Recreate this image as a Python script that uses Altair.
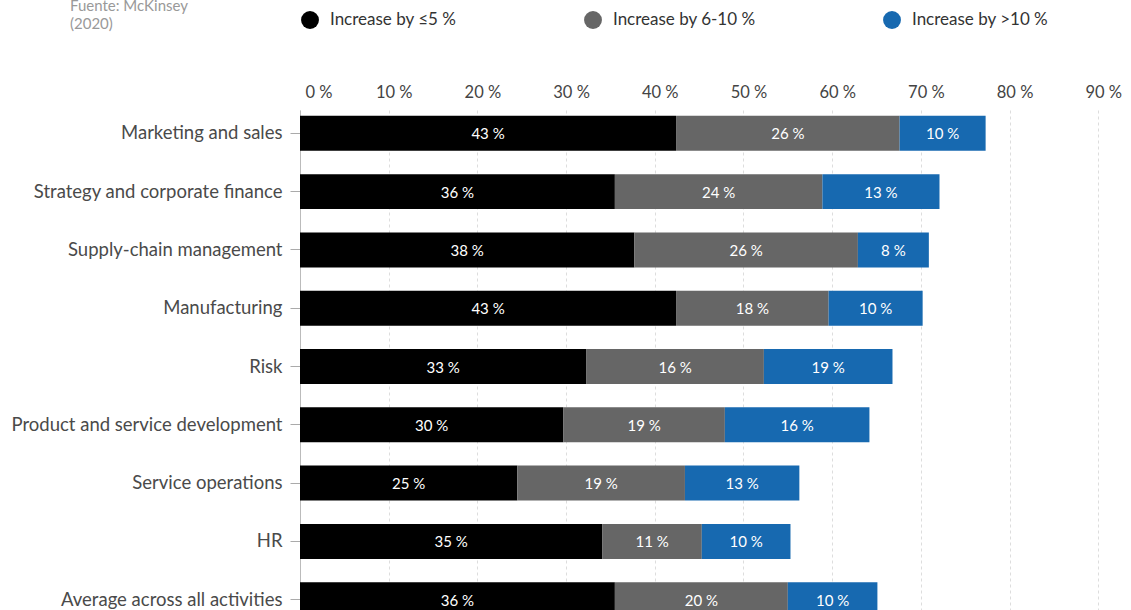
import altair as alt
import pandas as pd

categories = [
    "Marketing and sales",
    "Strategy and corporate finance",
    "Supply-chain management",
    "Manufacturing",
    "Risk",
    "Product and service development",
    "Service operations",
    "HR",
    "Average across all activities",
]
series = ["Increase by ≤5 %", "Increase by 6-10 %", "Increase by >10 %"]
colors = ["#000000", "#666666", "#1769b0"]

# drawn bar lengths (percentage points) as seen in the picture
low_vals = [42.4, 35.5, 37.7, 42.4, 32.3, 29.7, 24.5, 34.1, 35.5]
mid_vals = [25.2, 23.4, 25.2, 17.2, 20.0, 18.2, 18.9, 11.2, 19.5]
high_vals = [9.7, 13.2, 8.0, 10.6, 14.5, 16.3, 12.9, 10.0, 10.1]

# printed labels
low_labels = [43, 36, 38, 43, 33, 30, 25, 35, 36]
mid_labels = [26, 24, 26, 18, 16, 19, 19, 11, 20]
high_labels = [10, 13, 8, 10, 19, 16, 13, 10, 10]

x_ticks = [0, 10, 20, 30, 40, 50, 60, 70, 80, 90]
source_text = ["Fuente: McKinsey", "(2020)"]

rows = []
for i, cat in enumerate(categories):
    start = 0.0
    for j, (vals, labs) in enumerate(
        [(low_vals, low_labels), (mid_vals, mid_labels), (high_vals, high_labels)]
    ):
        v = vals[i]
        rows.append(
            {
                "category": cat,
                "series": series[j],
                "order": j,
                "value": v,
                "start": start,
                "end": start + v,
                "mid": start + v / 2,
                "label": f"{labs[i]} %",
            }
        )
        start += v
df = pd.DataFrame(rows)

FONT = "Lato"

y_enc = alt.Y(
    "category:N",
    sort=categories,
    title=None,
    scale=alt.Scale(paddingInner=0.4, paddingOuter=0.1, range=[0, 513]),
    axis=alt.Axis(
        labelFontSize=18.5,
        labelColor="#4a4a4a",
        labelFont=FONT,
        tickColor="#aaaaaa",
        tickSize=10,
        labelPadding=8,
        domainColor="#bbbbbb",
        labelLimit=400,
    ),
)

bars = (
    alt.Chart(df)
    .mark_bar()
    .encode(
        x=alt.X(
            "start:Q",
            title=None,
            scale=alt.Scale(domain=[0, 92], nice=False),
            axis=alt.Axis(
                orient="top",
                values=x_ticks,
                labelExpr="datum.value + ' %'",
                labelFontSize=16.5,
                labelColor="#444444",
                labelFont=FONT,
                labelPadding=10,
                labelOffset=5,
                labelFlush=True,
                ticks=False,
                domain=False,
                grid=True,
                gridColor="#dddddd",
                gridDash=[3, 3],
            ),
        ),
        x2="end:Q",
        y=y_enc,
        color=alt.Color(
            "series:N",
            scale=alt.Scale(domain=series, range=colors),
            legend=alt.Legend(
                title=None,
                orient="none",
                legendX=1,
                legendY=-99,
                direction="horizontal",
                symbolType="circle",
                symbolSize=320,
                symbolStrokeWidth=0,
                labelFontSize=17,
                labelColor="#333333",
                labelFont=FONT,
                labelOffset=11,
                columnPadding=127,
                padding=0,
            ),
        ),
    )
)

texts = (
    alt.Chart(df)
    .mark_text(color="white", fontSize=15, font=FONT, align="center", baseline="middle", dy=1)
    .encode(x=alt.X("mid:Q"), y=alt.Y("category:N", sort=categories), text="label:N")
)

src_df = pd.DataFrame({"t": ["\n".join(source_text)]})
source = (
    alt.Chart(src_df)
    .mark_text(
        align="left",
        baseline="alphabetic",
        fontSize=15,
        font=FONT,
        color="#999999",
        lineBreak="\n",
        lineHeight=18,
    )
    .encode(x=alt.value(-230), y=alt.value(-99), text="t:N")
)

chart = (
    alt.layer(bars, texts, source)
    .properties(
        width=816,
        height=500,
        autosize=alt.AutoSizeParams(type="none"),
        padding={"left": 300, "top": 110, "right": 15, "bottom": 0},
    )
    .configure(font=FONT)
    .configure_view(stroke=None)
)

chart.save("out.html", embed_options={"renderer": "svg", "actions": False})
